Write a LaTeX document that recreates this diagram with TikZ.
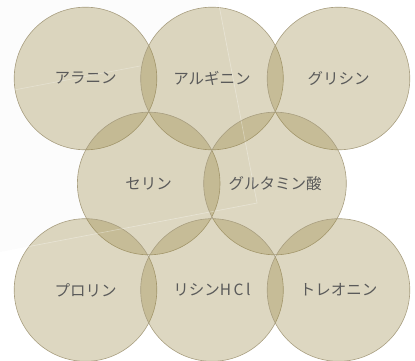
\documentclass[tikz,border=0pt]{standalone}
\usepackage{fontspec}
\setmainfont{Noto Sans CJK JP}
\definecolor{khaki}{RGB}{150,132,62}
\definecolor{ringline}{RGB}{168,158,128}
\definecolor{labeltext}{RGB}{90,90,90}
\tikzset{
  aminocircle/.style={circle, draw=ringline, line width=0.6pt, fill=khaki, fill opacity=0.32, text opacity=1, text=labeltext, minimum size=142.6pt, inner sep=0pt, font=\fontsize{15.5}{18}\selectfont}
}
\begin{document}
\begin{tikzpicture}[x=1pt,y=-1pt]
        \useasboundingbox (0,0) rectangle (415,361);

        % Faint sheet behind
        \fill[black!1] (0,0) -- (218,0) -- (257,203) -- (0,252) -- cycle;

        % Top row
        \node[aminocircle] (alanine) at (85.5,78.5) {アラニン};
        \node[aminocircle] (arginine) at (212,78.5) {アルギニン};
        \node[aminocircle] (glycine) at (338.5,78.5) {グリシン};

        % Middle row
        \node[aminocircle] (serine) at (148.7,183.5) {セリン};
        \node[aminocircle] (glutamic) at (275,183.5) {グルタミン酸};

        % Bottom row
        \node[aminocircle] (proline) at (85.5,290) {プロリン};
        \node[aminocircle] (lysine) at (212,290) {リシンH\,C\,l};
        \node[aminocircle] (threonine) at (338.5,290) {トレオニン};

        % Sheet edges
        \draw[white, opacity=0.35, line width=0.6pt] (218,0) -- (257,203) -- (0,252);
        \draw[white, opacity=0.3, line width=0.6pt] (14,90) -- (140,66);
    \end{tikzpicture}
\end{document}
